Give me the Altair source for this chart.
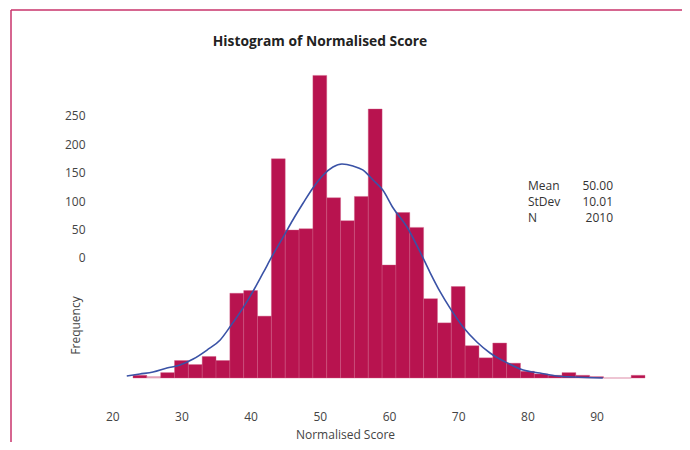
import altair as alt
import pandas as pd

# ---- data ----
bin_start = [23 + 2 * i for i in range(37)]
counts = [2, 1, 4, 13, 10, 16, 13, 63, 65, 46, 163, 110, 111, 225, 134, 117, 135, 200,
          84, 123, 112, 59, 41, 68, 24, 15, 26, 11, 5, 3, 2, 4, 2, 1, 0, 0, 2]

curve_x = [22.1, 24.0, 25.9, 27.9, 29.8, 31.7, 33.7, 35.6, 37.0, 38.9, 40.3, 41.8, 43.2,
           44.7, 46.1, 47.6, 49.0, 50.5, 51.9, 53.2, 54.8, 56.2, 57.7, 59.1, 60.6, 62.6,
           64.5, 65.9, 67.4, 68.8, 70.7, 72.7, 74.6, 77.1, 79.4, 81.8, 84.3, 86.6, 90.9]
curve_y = [1.5, 3.0, 4.5, 7.4, 9.7, 14.1, 20.8, 28.3, 37.9, 52.1, 64.0, 78.1, 91.5,
           104.8, 117.5, 130.1, 141.3, 151.0, 156.9, 159.1, 157.6, 154.7, 147.2, 139.8,
           126.4, 112.3, 93.7, 78.8, 64.0, 52.1, 37.9, 26.8, 18.6, 11.2, 5.9, 3.7, 1.5,
           0.7, 0.0]

x_ticks = [20, 30, 40, 50, 60, 70, 80, 90]
y_ticks = [0, 50, 100, 150, 200, 250]
stat_names = ["Mean", "StDev", "N"]
stat_values = ["50.00", "10.01", "2010"]

bars_df = pd.DataFrame({"start": bin_start, "end": [b + 2 for b in bin_start], "count": counts})
curve_df = pd.DataFrame({"x": curve_x, "y": curve_y})
ticks_df = pd.DataFrame({"t": y_ticks})

FONT = "Open Sans"
BAR = "#b8134f"
PALE = "#e9b6c6"
W, H = 560, 328
xscale = alt.Scale(domain=[18.231, 99.166], nice=False, zero=False)
yscale = alt.Scale(domain=[0, 243.9], nice=False, zero=False)

bars = alt.Chart(bars_df).mark_bar(stroke="#cf5a84", strokeWidth=0.4).encode(
    x=alt.X("start:Q", scale=xscale,
            axis=alt.Axis(values=x_ticks, title="Normalised Score", grid=False, domain=False,
                          ticks=False, tickSize=0, labelPadding=33, labelFontSize=12,
                          labelColor="#444", labelFont=FONT, titleFont=FONT,
                          titleFontSize=12, titleFontWeight="normal", titleColor="#444",
                          titleX=245, titleY=56, titleBaseline="middle")),
    x2="end:Q",
    y=alt.Y("count:Q", scale=yscale, axis=None),
    y2=alt.datum(0),
    color=alt.condition(alt.datum.start == 25, alt.value(PALE), alt.value(BAR)),
)

curve = alt.Chart(curve_df).mark_line(color="#3a52a6", strokeWidth=1.6,
                                      interpolate="monotone").encode(
    x=alt.X("x:Q", scale=xscale),
    y=alt.Y("y:Q", scale=yscale, axis=None),
)

yaxis = alt.Chart(ticks_df).mark_point(opacity=0).encode(
    x=alt.value(0),
    y=alt.Y("t:Q", scale=alt.Scale(domain=[-211.3, 366.2], nice=False, zero=False),
            axis=alt.Axis(orient="left", values=y_ticks, title="Frequency", grid=False,
                          domain=False, ticks=False, tickSize=0, labelPadding=15,
                          labelFontSize=12, labelColor="#444", labelFont=FONT,
                          titleFont=FONT, titleFontSize=12, titleFontWeight="normal",
                          titleColor="#444", titleX=-25, titleY=275, titleAngle=-90,
                          titleAlign="center", titleBaseline="middle")),
)

stat_layers = []
for i, (n, v) in enumerate(zip(stat_names, stat_values)):
    stat_layers.append(alt.Chart(pd.DataFrame({"t": [n]})).mark_text(
        align="left", baseline="middle", font=FONT, fontSize=12, color="#333").encode(
        text="t:N", x=alt.value(428), y=alt.value(136 + 16 * i)))
    stat_layers.append(alt.Chart(pd.DataFrame({"t": [v]})).mark_text(
        align="right", baseline="middle", font=FONT, fontSize=12, color="#333").encode(
        text="t:N", x=alt.value(513), y=alt.value(136 + 16 * i)))

title = alt.Chart(pd.DataFrame({"t": ["Histogram of Normalised Score"]})).mark_text(
    align="center", baseline="middle", font=FONT, fontSize=13.8, fontWeight="bold",
    color="#222").encode(text="t:N", x=alt.value(220), y=alt.value(-8))

frame_top = alt.Chart(pd.DataFrame({"a": [0]})).mark_rule(color="#c8336b", strokeWidth=1.5).encode(
    x=alt.value(-89), x2=alt.value(582), y=alt.value(-40))
frame_left = alt.Chart(pd.DataFrame({"a": [0]})).mark_rule(color="#c8336b", strokeWidth=1.5).encode(
    x=alt.value(-89), y=alt.value(-40), y2=alt.value(392))

chart = alt.layer(bars, curve, yaxis, *stat_layers, title, frame_top, frame_left).resolve_scale(
    y="independent"
).properties(
    width=W, height=H,
    background="white",
    autosize=alt.AutoSizeParams(type="none"),
    padding={"left": 92, "top": 42, "right": 22, "bottom": 64},
).configure_view(stroke="transparent", strokeWidth=0)

chart.save("out.html", embed_options={"renderer": "svg", "actions": False})
